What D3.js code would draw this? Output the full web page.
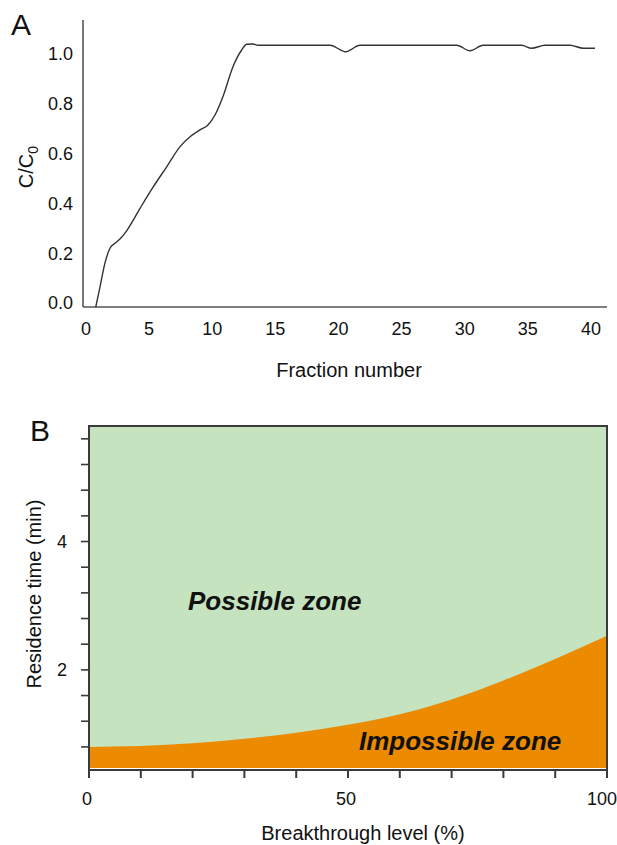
<!DOCTYPE html>
<html>
<head>
<meta charset="utf-8">
<script src="https://cdn.jsdelivr.net/npm/d3@7"></script>
<style>
  html, body { margin: 0; padding: 0; background: #fff; }
  svg { display: block; font-family: "Liberation Sans", Arial, sans-serif; }
</style>
</head>
<body>
<svg id="chart" width="617" height="845"></svg>
<script>
// ---------- Panel A data ----------
const fractionTicks = [0, 5, 10, 15, 20, 25, 30, 35, 40];
const ratioTicks = [0.0, 0.2, 0.4, 0.6, 0.8, 1.0];
const fractionNumber = [0.77, 1.11, 1.50, 1.90, 2.30, 2.69, 3.22, 4.28, 5.31, 6.39, 7.45, 8.24, 9.03, 9.66, 10.22, 10.85, 11.64, 12.33, 12.73, 13.23, 13.62, 19.33, 20.57, 21.70, 29.36, 30.42, 31.45, 34.51, 35.30, 36.36, 38.34, 39.39, 40.32];
const ratioC = [-0.017, 0.065, 0.16, 0.22, 0.24, 0.257, 0.29, 0.38, 0.465, 0.547, 0.628, 0.668, 0.695, 0.715, 0.755, 0.829, 0.949, 1.016, 1.039, 1.040, 1.035, 1.035, 1.009, 1.035, 1.035, 1.013, 1.035, 1.035, 1.023, 1.035, 1.035, 1.023, 1.023];

// ---------- Panel B data ----------
const breakthroughLevel = [0, 10, 20, 30, 40, 50, 60, 70, 80, 90, 100];
const residenceLimit = [0.80, 0.815, 0.855, 0.925, 1.02, 1.145, 1.31, 1.54, 1.835, 2.17, 2.53];
const breakthroughTicks = [0, 10, 20, 30, 40, 50, 60, 70, 80, 90, 100];
const breakthroughLabels = [0, 50, 100];
const residenceTicks = [0.8, 1.2, 1.6, 2.0, 2.4, 2.8, 3.2, 3.6, 4.0, 4.4, 4.8, 5.2, 5.6];
const residenceLabels = [2, 4];

const svg = d3.select("#chart");
const axisColor = "#555";

// ================= Panel A =================
const xA = d3.scaleLinear().domain([0, 40]).range([86, 591]);
const yA = d3.scaleLinear().domain([0, 1]).range([303, 54]);
const gA = svg.append("g");

gA.append("line").attr("x1", 83).attr("x2", 83).attr("y1", 20).attr("y2", 307)
  .attr("stroke", axisColor).attr("stroke-width", 1.6);
gA.append("line").attr("x1", 83).attr("x2", 607).attr("y1", 307).attr("y2", 307)
  .attr("stroke", axisColor).attr("stroke-width", 1.6);

gA.selectAll(".xl").data(fractionTicks).enter().append("text")
  .attr("x", d => xA(d)).attr("y", 335)
  .attr("text-anchor", "middle").attr("font-size", 18).attr("fill", "#111")
  .text(d => d);
gA.selectAll(".yl").data(ratioTicks).enter().append("text")
  .attr("x", 73).attr("y", d => yA(d)).attr("dy", "0.36em")
  .attr("text-anchor", "end").attr("font-size", 18).attr("fill", "#111")
  .text(d => d.toFixed(1));

gA.append("text").attr("x", 349).attr("y", 377).attr("text-anchor", "middle")
  .attr("font-size", 20).attr("fill", "#111").text("Fraction number");
const cLab = gA.append("text").attr("transform", "translate(33,167) rotate(-90)")
  .attr("text-anchor", "middle").attr("font-size", 20).attr("fill", "#111");
cLab.append("tspan").text("C/C");
cLab.append("tspan").attr("font-size", 14).attr("dy", 5).text("0");

gA.append("text").attr("x", 11).attr("y", 35).attr("font-size", 30).attr("fill", "#111").text("A");

const ptsA = fractionNumber.map((f, i) => [f, ratioC[i]]);
gA.append("path").datum(ptsA)
  .attr("d", d3.line().x(d => xA(d[0])).y(d => yA(d[1])).curve(d3.curveMonotoneX))
  .attr("fill", "none").attr("stroke", "#333").attr("stroke-width", 1.4);

// ================= Panel B =================
const xB = d3.scaleLinear().domain([0, 100]).range([89, 607]);
const yB = d3.scaleLinear().domain([0.44, 5.8]).range([770, 426]);
const gB = svg.append("g");
const plotTop = 427, plotBottom = 768;

gB.append("rect").attr("x", xB(0)).attr("y", plotTop)
  .attr("width", xB(100) - xB(0)).attr("height", plotBottom - plotTop)
  .attr("fill", "#c5e3bf");

const ptsB = breakthroughLevel.map((b, i) => [b, residenceLimit[i]]);
gB.append("path").datum(ptsB)
  .attr("d", d3.area().x(d => xB(d[0])).y0(plotBottom).y1(d => yB(d[1])).curve(d3.curveNatural))
  .attr("fill", "#ec8a00");

gB.append("path")
  .attr("d", `M${xB(0)},${770} V${plotTop - 1} H${xB(100)} V${770}`)
  .attr("fill", "none").attr("stroke", "#3a3a3a").attr("stroke-width", 2);
gB.append("line").attr("x1", xB(0) - 1).attr("x2", xB(100) + 1).attr("y1", 770).attr("y2", 770)
  .attr("stroke", "#3a3a3a").attr("stroke-width", 2);

gB.selectAll(".xt").data(breakthroughTicks).enter().append("line")
  .attr("x1", d => xB(d)).attr("x2", d => xB(d)).attr("y1", 770).attr("y2", 778)
  .attr("stroke", "#3a3a3a").attr("stroke-width", 2);
gB.selectAll(".xbl").data(breakthroughLabels).enter().append("text")
  .attr("x", d => xB(d)).attr("dx", d => d === 100 ? -5 : -2).attr("y", 805)
  .attr("text-anchor", "middle").attr("font-size", 18).attr("fill", "#111").text(d => d);

gB.selectAll(".yt").data(residenceTicks).enter().append("line")
  .attr("x1", xB(0) - 8).attr("x2", xB(0)).attr("y1", d => yB(d)).attr("y2", d => yB(d))
  .attr("stroke", "#3a3a3a").attr("stroke-width", 1.6);
gB.selectAll(".ybl").data(residenceLabels).enter().append("text")
  .attr("x", 67).attr("y", d => yB(d)).attr("dy", "0.36em")
  .attr("text-anchor", "end").attr("font-size", 18).attr("fill", "#111").text(d => d);

gB.append("text").attr("x", 363).attr("y", 840).attr("text-anchor", "middle")
  .attr("font-size", 20).attr("fill", "#111").text("Breakthrough level (%)");
gB.append("text").attr("transform", "translate(41,594) rotate(-90)")
  .attr("text-anchor", "middle").attr("font-size", 20).attr("fill", "#111").text("Residence time (min)");
gB.append("text").attr("x", 30).attr("y", 441).attr("font-size", 30).attr("fill", "#111").text("B");

gB.append("text").attr("x", 188).attr("y", 610).attr("font-size", 26)
  .attr("font-weight", "bold").attr("font-style", "italic").attr("fill", "#111").text("Possible zone");
gB.append("text").attr("x", 359).attr("y", 750).attr("font-size", 26)
  .attr("font-weight", "bold").attr("font-style", "italic").attr("fill", "#111").text("Impossible zone");
</script>
</body>
</html>
